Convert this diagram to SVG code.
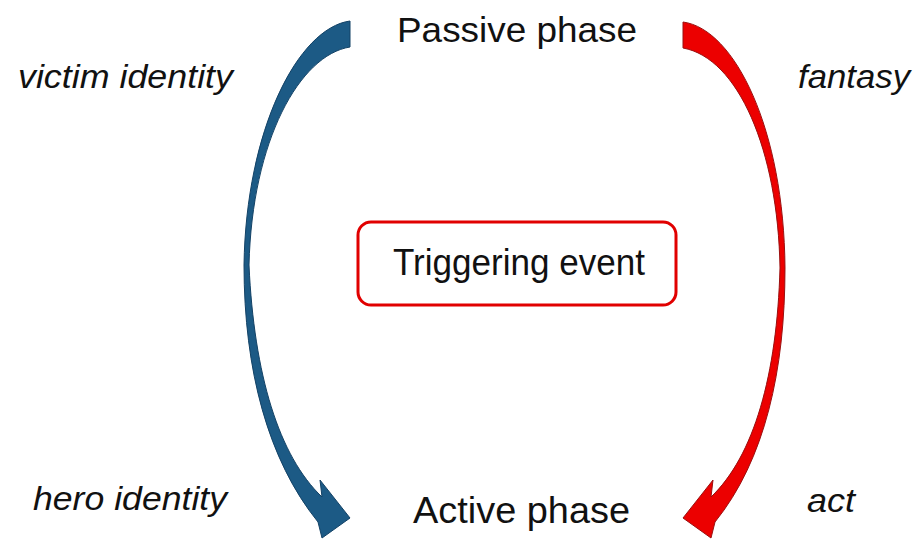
<svg xmlns="http://www.w3.org/2000/svg" width="916" height="540" viewBox="0 0 916 540">
<style>
.t{font-family:"Liberation Sans",Arial,sans-serif;fill:#111;}
.lbl{font-family:"Liberation Sans",Arial,sans-serif;font-style:italic;fill:#111;font-size:34px;}
.blue{fill:#1c5a85;stroke:#134266;stroke-width:1;stroke-linejoin:miter;}
.red{fill:#ec0000;stroke:#9a1010;stroke-width:1;stroke-linejoin:miter;}
</style>
<rect width="916" height="540" fill="#ffffff"/>
<g id="connectors">
<path id="arrow-blue" class="blue" d="M350,21 C298,28 246,130 244,265 C244,370 268,460 318,522 L322,538 L350,518 L320,480 L322,497 C279,456 254,375 249,265 C252,140 300,55 350,47 Z"/>
<path id="arrow-red" class="red" d="M683,22 C735,29 784,130 785,268 C785,370 765,460 715,522 L711,538 L683,518 L713,480 L711,497 C754,456 777,375 780,268 C778,150 738,58 683,48 Z"/>
</g>
<g id="passive">
<text class="t" x="517" y="42" font-size="35" text-anchor="middle" textLength="240" lengthAdjust="spacingAndGlyphs">Passive phase</text>
</g>
<g id="active">
<text class="t" x="521.5" y="523" font-size="36" text-anchor="middle" textLength="217" lengthAdjust="spacingAndGlyphs">Active phase</text>
</g>
<g id="trigger">
<rect x="358" y="222" width="318" height="83" rx="13" fill="#ffffff" stroke="#e10000" stroke-width="3"/>
<text class="t" x="519" y="275" font-size="36" text-anchor="middle" textLength="252" lengthAdjust="spacingAndGlyphs">Triggering event</text>
</g>
<g id="labels">
<text class="lbl" x="18" y="88" textLength="215" lengthAdjust="spacingAndGlyphs">victim identity</text>
<text class="lbl" x="798" y="88" textLength="112" lengthAdjust="spacingAndGlyphs">fantasy</text>
<text class="lbl" x="33" y="510" textLength="194" lengthAdjust="spacingAndGlyphs">hero identity</text>
<text class="lbl" x="807" y="512" textLength="48" lengthAdjust="spacingAndGlyphs">act</text>
</g>
</svg>
